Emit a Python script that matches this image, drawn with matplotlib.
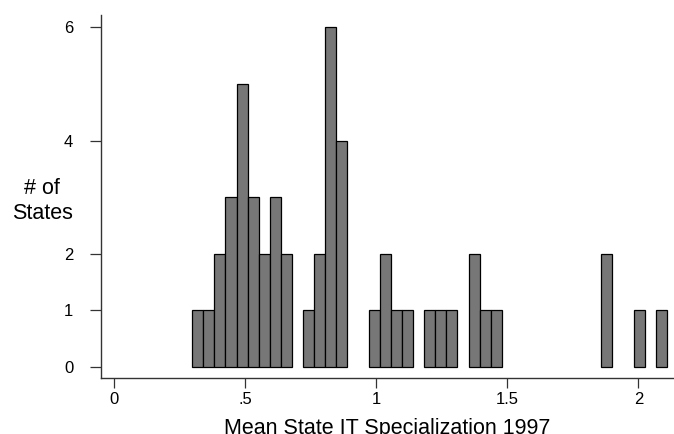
#%% Bibliotheken

import numpy as np
import matplotlib.pyplot as plt

#%% Daten (Histogramm)

bin_start = 0.2977
bin_width = 0.04216
counts = [1, 1, 2, 3, 5, 3, 2, 3, 2, 0,
          1, 2, 6, 4, 0, 0,
          1, 2, 1, 1, 0,
          1, 1, 1, 0,
          2, 1, 1,
          0, 0, 0, 0, 0, 0, 0, 0, 0,
          2, 0, 0, 1, 0, 1]

x_ticks = [0, 0.5, 1, 1.5, 2]
x_ticklabels = ['0', '.5', '1', '1.5', '2']
y_ticks = [0, 1, 2, 4, 6]

x_label = 'Mean State IT Specialization 1997'
y_label = '# of\nStates'

#%% Grafik

plt.rcParams['font.family'] = ['Liberation Sans', 'DejaVu Sans']

counts = np.asarray(counts)
lefts = bin_start + bin_width * np.arange(len(counts))
filled = counts > 0

fig = plt.figure(figsize=(6.74, 4.34), dpi=100)
ax = fig.add_axes([0.1499, 0.1297, 0.8501, 0.8357])

# leere Klassen nicht zeichnen (sonst Randlinie auf der Nulllinie)
ax.bar(lefts[filled], counts[filled], width=bin_width, align='edge',
       color='#777777', edgecolor='black', linewidth=0.9)

ax.set_xlim(-0.0508, 2.136)
ax.set_ylim(-0.195, 6.22)

ax.set_xticks(x_ticks)
ax.set_xticklabels(x_ticklabels)
ax.set_yticks(y_ticks)

for side in ['top', 'right']:
    ax.spines[side].set_visible(False)
for side in ['left', 'bottom']:
    ax.spines[side].set_color('#333333')
    ax.spines[side].set_linewidth(1.0)

ax.tick_params(axis='both', direction='out', width=0.9,
               color='#333333', labelsize=12)
ax.tick_params(axis='y', length=8, pad=12)
ax.tick_params(axis='x', length=7, pad=3)

ax.set_xlabel(x_label, fontsize=15.5, labelpad=8)
ax.set_ylabel(y_label, fontsize=15.5, rotation=0, ha='center', va='center',
              linespacing=1.3)
ax.yaxis.set_label_coords(-0.103, 0.487)

plt.savefig('out.png', dpi=100)
